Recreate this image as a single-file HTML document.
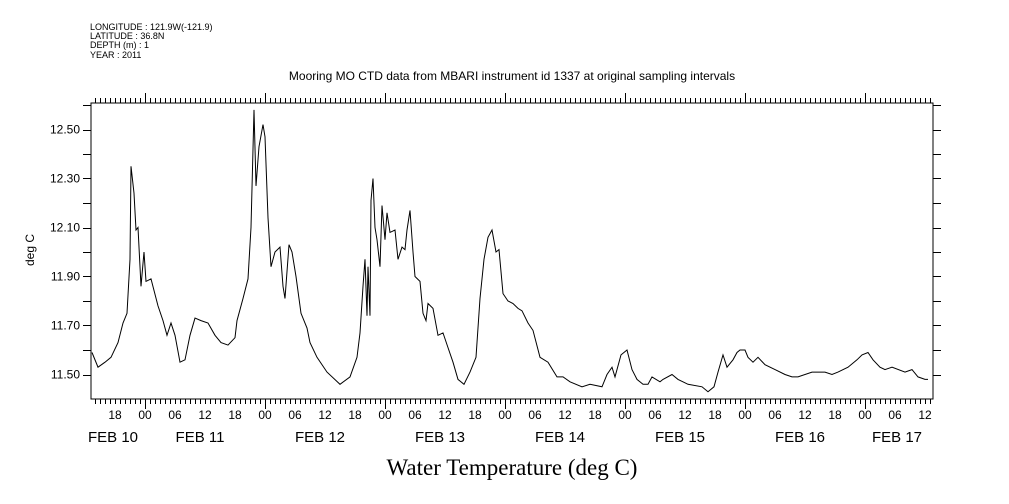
<!DOCTYPE html>
<html><head><meta charset="utf-8"><style>
body{margin:0;background:#fff;width:1009px;height:504px;overflow:hidden}
svg{display:block}
text{font-family:"Liberation Sans",sans-serif;fill:#000}
</style></head><body>
<svg id="chart" width="1009" height="504" viewBox="0 0 1009 504" xmlns="http://www.w3.org/2000/svg">
<g font-size="9">
<text x="90" y="30">LONGITUDE : 121.9W(-121.9)</text>
<text x="90" y="39">LATITUDE : 36.8N</text>
<text x="90" y="48">DEPTH (m) : 1</text>
<text x="90" y="58">YEAR : 2011</text>
</g>
<text x="512" y="80" text-anchor="middle" font-size="12">Mooring MO CTD data from MBARI instrument id 1337 at original sampling intervals</text>
<rect x="91" y="103" width="842" height="296" fill="none" stroke="#000" stroke-width="1"/>
<g id="ticks" stroke="#000" stroke-width="1"></g>
<g id="labels"></g>
<text transform="translate(34,250) rotate(-90)" text-anchor="middle" font-size="12">deg C</text>
<text x="512" y="475" text-anchor="middle" font-size="23" style="font-family:'Liberation Serif',serif">Water Temperature (deg C)</text>
<path id="series" fill="none" stroke="#000" stroke-width="1"/>
</svg>
<script>
const hours = [13.4,14.6,16,17.2,18.6,19.6,20.4,21,21.2,21.8,22.2,22.6,23.2,23.8,24.2,25.2,26.6,27.6,28.4,29.2,30,31,32,33,34,35.2,36.6,38,39.2,40.6,42,42.4,43.6,44.6,45.2,45.8,46.2,46.8,47.6,48,48.6,49.2,50,51,51.6,52,52.8,53.4,54.2,55.2,56.4,57,58.4,60.4,63,65,66.4,67,67.6,68,68.4,68.6,69,69.2,69.6,70,70.4,71,71.4,72,72.4,73,74,74.6,75.4,76,76.4,77,77.6,78,79,79.6,80.2,80.6,81.6,82.6,83.6,84.6,85.6,86.6,87.8,89,90.2,91,91.8,92.6,93.4,94.2,94.8,95.6,96.6,97.6,98.6,99.4,100.6,101.6,103,104.6,106.4,107.6,109,111.4,113,115.4,116.4,117.4,118,119.2,120.4,121.4,122.4,123.6,124.6,125.4,127,127.6,129.4,130.6,132.6,135.4,136.6,137.8,138.6,139.6,140.4,141.6,142.4,143,144,144.6,145.6,146.6,148,150,152,153.4,154.6,157.4,160,161.4,162.6,164.6,166.4,167.4,168.6,169.6,171,172,173.4,176,177.4,178.6,180,180.6];
const temps = [11.59,11.53,11.55,11.57,11.63,11.71,11.75,11.97,12.35,12.24,12.09,12.10,11.86,12.00,11.88,11.89,11.78,11.72,11.66,11.71,11.66,11.55,11.56,11.66,11.73,11.72,11.71,11.66,11.63,11.62,11.65,11.72,11.81,11.89,12.10,12.58,12.27,12.43,12.52,12.47,12.14,11.94,12.00,12.02,11.86,11.81,12.03,12.00,11.90,11.75,11.69,11.63,11.57,11.51,11.46,11.49,11.57,11.67,11.86,11.97,11.74,11.94,11.74,12.21,12.30,12.10,12.05,11.94,12.19,12.05,12.16,12.08,12.09,11.97,12.02,12.01,12.09,12.17,12.00,11.90,11.88,11.75,11.72,11.79,11.77,11.66,11.67,11.61,11.55,11.48,11.46,11.51,11.57,11.81,11.97,12.06,12.09,12.00,12.01,11.83,11.80,11.79,11.77,11.76,11.71,11.68,11.57,11.55,11.49,11.49,11.47,11.45,11.46,11.45,11.50,11.53,11.49,11.58,11.60,11.52,11.48,11.46,11.46,11.49,11.47,11.48,11.50,11.48,11.46,11.45,11.43,11.45,11.51,11.58,11.53,11.56,11.59,11.60,11.60,11.57,11.55,11.57,11.54,11.52,11.50,11.49,11.49,11.51,11.51,11.50,11.51,11.53,11.56,11.58,11.59,11.56,11.53,11.52,11.53,11.51,11.52,11.49,11.48,11.48,11.46];
const yTickLabels = ["12.50","12.30","12.10","11.90","11.70","11.50"];
const hourLabelHours = [18,24,30,36,42,48,54,60,66,72,78,84,90,96,102,108,114,120,126,132,138,144,150,156,162,168,174,180];
const dateLabels = ["FEB 10","FEB 11","FEB 12","FEB 13","FEB 14","FEB 15","FEB 16","FEB 17"];
const dateLabelX = [113,200,320,440,560,680,800,897];

const L=91,R=933,T=103,B=399;
function xs(h){return 145+(h-24)*5;}
function ys(v){return 129.5+(12.5-v)*245;}
const NS="http://www.w3.org/2000/svg";
const tk=document.getElementById('ticks'), lb=document.getElementById('labels');
function line(x1,y1,x2,y2){const l=document.createElementNS(NS,'line');l.setAttribute('x1',x1);l.setAttribute('y1',y1);l.setAttribute('x2',x2);l.setAttribute('y2',y2);


tk.appendChild(l);}
function txt(x,y,s,size,anchor,name){const t=document.createElementNS(NS,'text');t.setAttribute('x',x);t.setAttribute('y',y);t.setAttribute('font-size',size);t.setAttribute('text-anchor',anchor);t.textContent=s;


lb.appendChild(t);}
for(let h=14;h<=181;h++){const x=Math.round(xs(h))+0.5;const len=(h%24===0)?10:5;line(x,T,x,T-len);line(x,B,x,B+len);}
for(let i=1;i<=12;i++){const v=11.4+i*0.1;const y=Math.round(ys(v))+0.5;if(y<T)continue;line(L-8,y,L,y);line(R,y,R+8,y);}
yTickLabels.forEach(s=>txt(80,ys(parseFloat(s))+4,s,12,'end','y-tick-label'));
hourLabelHours.forEach(h=>txt(xs(h),419,String(h%24).padStart(2,'0'),12,'middle','x-hour-label'));
dateLabels.forEach((s,i)=>txt(dateLabelX[i],442,s,15,'middle','x-date-label'));
let d='';hours.forEach((h,i)=>{d+=(i?'L':'M')+xs(h).toFixed(1)+','+ys(temps[i]).toFixed(1);});
document.getElementById('series').setAttribute('d',d);
</script>
</body></html>
